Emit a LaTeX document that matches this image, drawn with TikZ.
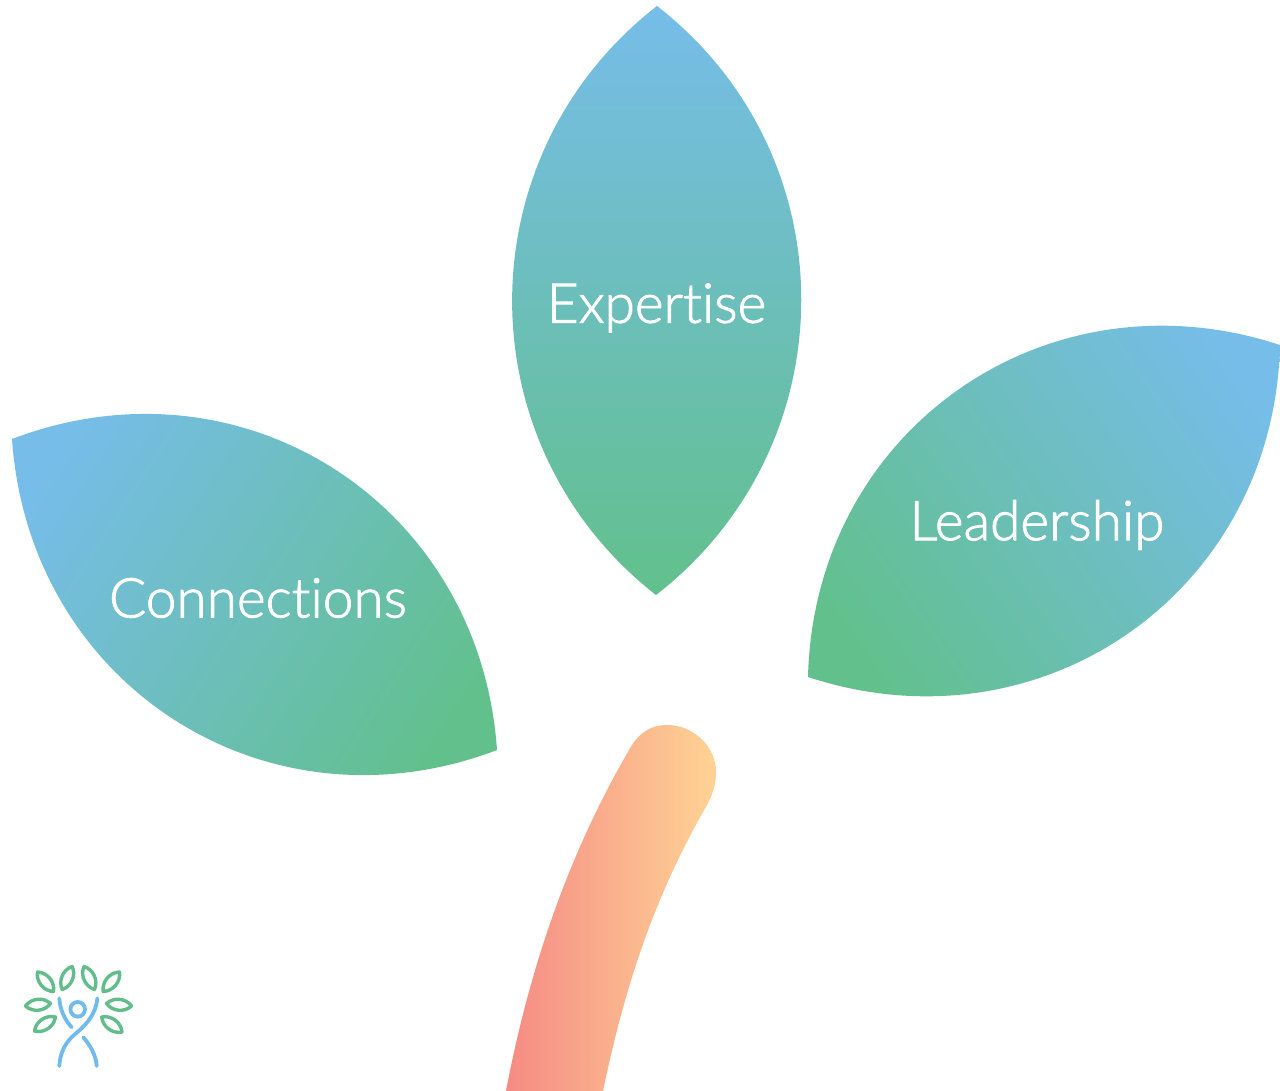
\documentclass[tikz,border=0pt]{standalone}
\usepackage{fontspec}
\setmainfont{Lato Light}[FakeBold=1.6,Ligatures=NoCommon]
\definecolor{leafblue}{HTML}{76BDE9}
\definecolor{leafgreen}{HTML}{62C08C}
\definecolor{stemred}{HTML}{F58B84}
\definecolor{stemyellow}{HTML}{FFD394}
\definecolor{logoblue}{HTML}{70BBEB}
\definecolor{logogreen}{HTML}{62BD8A}
\tikzset{
  leafshade/.style={top color=leafblue,bottom color=leafgreen,draw=none},
  leaflabel/.style={text=white,font=\fontsize{55}{64}\selectfont,inner sep=0pt,anchor=center},
  logoleaf/.style={draw=logogreen,line width=3.4pt,line join=round,fill=none},
  logoline/.style={draw=logoblue,line width=3.8pt,line cap=round,fill=none}
}
\newcommand{\smallleaf}[4]{\path[logoleaf] (#1,#2) to[bend left=48] (#3,#4) to[bend left=48] (#1,#2) -- cycle;}
\begin{document}
\begin{tikzpicture}[x=1pt,y=-1pt]
\useasboundingbox[fill=white] (0,0) rectangle (1280,1091);
% top leaf
\shade[leafshade] (657,6) .. controls (464,156) and (464,445) .. (656,595)
  .. controls (849,445) and (850,156) .. (657,6) -- cycle;
% left leaf
\shade[leafshade,shading angle=57] (12,439) .. controls (243,351) and (480,504) .. (497,750)
  .. controls (266,838) and (29,685) .. (12,439) -- cycle;
% right leaf
\shade[leafshade,shading angle=-55] (1280,345) .. controls (1046,268) and (814,430) .. (808,677)
  .. controls (1042,754) and (1274,592) .. (1280,345) -- cycle;
% stem
\shade[left color=stemred,right color=stemyellow,draw=none]
  (506,1091) .. controls (530,965) and (570,850) .. (632,745)
  .. controls (641,731) and (653,725) .. (667,725)
  .. controls (694,725) and (716,747) .. (716,772)
  .. controls (716,785) and (712,796) .. (707,805)
  .. controls (655,895) and (625,985) .. (603,1091) -- cycle;
\node[leaflabel] (expertise) at (656.5,308) {Expertise};
\node[leaflabel] (leadership) at (1037,525) {Leadership};
\node[leaflabel] (connections) at (258,598) {Connections};
% logo
\smallleaf{37.5}{972}{53.5}{991.5}
\smallleaf{72.2}{966.5}{62.2}{989.5}
\smallleaf{84}{966.5}{94.5}{989.5}
\smallleaf{119.5}{972}{103.2}{991.5}
\smallleaf{25.5}{1006}{50.5}{1003.5}
\smallleaf{131.5}{1006}{106.5}{1003.5}
\smallleaf{34.5}{1031}{55.5}{1017}
\smallleaf{122}{1032}{101.7}{1017}
\draw[logoline] (77.7,1009.3) circle (7.3);
\draw[logoline] (59.3,998.3) .. controls (60,1010) and (65,1020) .. (71.7,1027.3);
\draw[logoline] (97.3,998.3) .. controls (96,1015) and (85,1026) .. (74,1035)
  .. controls (66,1042) and (60,1052) .. (59.3,1066);
\draw[logoline] (83.3,1037.3) .. controls (90,1045) and (96,1055) .. (96.7,1066);
\end{tikzpicture}
\end{document}
